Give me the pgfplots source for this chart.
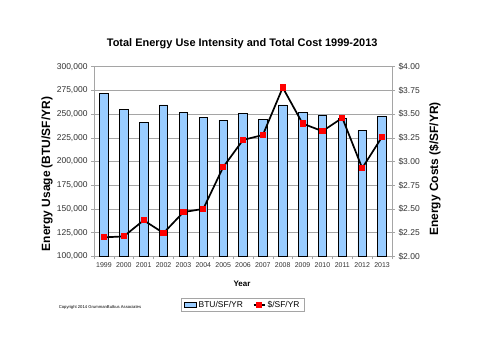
\documentclass[border=0pt]{standalone}
\usepackage{fontspec}
\setmainfont{Liberation Sans}
\usepackage{pgfplots}
\pgfplotsset{compat=1.18}
\definecolor{barblue}{RGB}{153,204,255}
\definecolor{gridgray}{RGB}{165,165,165}
\definecolor{ticktext}{RGB}{50,50,50}
\pgfplotsset{
  shortline legend/.style={legend image code/.code={\draw[mark repeat=2,mark phase=2,##1] plot coordinates {(0bp,0bp) (5.5bp,0bp) (11bp,0bp)};}},
  barrect legend/.style={legend image code/.code={\draw[fill=barblue,draw=black,line width=0.6bp] (0bp,-2.5bp) rectangle (12bp,2.5bp);}},
}
\begin{document}
\begin{tikzpicture}[x=1bp,y=1bp]
\path[use as bounding box] (0,0) rectangle (485,350);
\fill[white] (0,0) rectangle (485,350);
\begin{axis}[
  at={(94bp,93.7bp)}, anchor=south west, scale only axis,
  width=298bp, height=189.6bp,
  xmin=-0.5, xmax=14.5, ymin=100000, ymax=300000,
  ytick={100000,125000,150000,175000,200000,225000,250000,275000,300000},
  scaled y ticks=false,
  /pgf/number format/.cd, fixed, 1000 sep={,}, assume math mode=true, /pgfplots/.cd,
  xtick={-0.5,0.5,...,14.5}, xticklabels={},
  extra x ticks={0,1,...,14},
  extra x tick labels={1999,2000,2001,2002,2003,2004,2005,2006,2007,2008,2009,2010,2011,2012,2013},
  extra x tick style={major tick length=0pt, grid=none},
  xtick pos=bottom, ytick pos=left, tick align=outside,
  major tick length=3bp,
  tick style={gridgray, line width=0.6bp},
  axis line style={gridgray, line width=0.6bp},
  ymajorgrids, grid style={gridgray, line width=0.6bp},
  xticklabel style={font=\fontsize{7}{8}\selectfont, text=ticktext, yshift=-2.5bp},
  yticklabel style={font=\fontsize{8.5}{9}\selectfont, text=ticktext},
  ybar, bar width=8.5bp,
]
\addplot[fill=barblue, draw=black, line width=0.7bp] coordinates {
(0,272000) (1,255200) (2,241500) (3,259700) (4,252000) (5,246300) (6,243600) (7,250900)
(8,244200) (9,259700) (10,252000) (11,249200) (12,246000) (13,232600) (14,248100)};
\end{axis}
\begin{axis}[
  at={(94bp,93.7bp)}, anchor=south west, scale only axis,
  width=298bp, height=189.6bp,
  xmin=-0.5, xmax=14.5, ymin=2, ymax=4,
  ytick={2,2.25,2.5,2.75,3,3.25,3.5,3.75,4},
  axis y line*=right, axis x line=none,
  tick align=outside, major tick length=3bp,
  tick style={gridgray, line width=0.6bp},
  axis line style={gridgray, line width=0.6bp},
  /pgf/number format/assume math mode=true,
  yticklabel={\$\pgfmathprintnumber[fixed,fixed zerofill,precision=2]{\tick}},
  yticklabel style={font=\fontsize{8.5}{9}\selectfont, text=ticktext},
  legend columns=2,
  legend style={at={(0.4993,-0.256)}, anchor=center, draw=gridgray, line width=0.6bp,
    font=\fontsize{8.5}{9}\selectfont, inner xsep=3bp, inner ysep=1bp,
    /tikz/every even column/.append style={column sep=8bp}},
]
\addlegendimage{barrect legend}
\addlegendentry{BTU/SF/YR}
\addplot[black, line width=1.7bp, mark=square*, mark size=2.6bp, mark options={fill=red, draw=red, line width=0pt}, shortline legend]
coordinates {
(0,2.20) (1,2.21) (2,2.38) (3,2.245) (4,2.466) (5,2.50) (6,2.94) (7,3.227)
(8,3.28) (9,3.78) (10,3.40) (11,3.32) (12,3.46) (13,2.93) (14,3.26)};
\addlegendentry{\$/SF/YR}
\end{axis}
\node[font=\bfseries\fontsize{11}{13}\selectfont] at (242.2,306) {Total Energy Use Intensity and Total Cost 1999-2013};
\node[font=\bfseries\fontsize{12}{14}\selectfont, rotate=90] at (47,176) {Energy Usage (BTU/SF/YR)};
\node[font=\bfseries\fontsize{12}{14}\selectfont, rotate=90] at (435,181) {Energy Costs (\$/SF/YR)};
\node[font=\bfseries\fontsize{8}{9}\selectfont] at (242,66.7) {Year};
\node[font=\fontsize{4.2}{5}\selectfont] at (100,42.3) {Copyright 2014 GrummanButkus Associates};
\end{tikzpicture}
\end{document}
